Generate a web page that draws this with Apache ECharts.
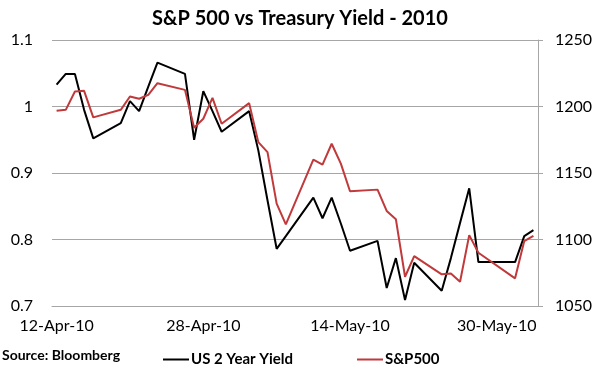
<!DOCTYPE html>
<html>
<head>
<meta charset="utf-8">
<script src="https://cdn.jsdelivr.net/npm/echarts@6/dist/echarts.min.js"></script>
<style>html,body{margin:0;padding:0;background:#fff;}#c{width:600px;height:370px;}</style>
</head>
<body>
<div id="c"></div>
<script>
// Trading dates (2010)
var tradeDates = ['2010-04-12','2010-04-13','2010-04-14','2010-04-15','2010-04-16',
  '2010-04-19','2010-04-20','2010-04-21','2010-04-22','2010-04-23',
  '2010-04-26','2010-04-27','2010-04-28','2010-04-29','2010-04-30',
  '2010-05-03','2010-05-04','2010-05-05','2010-05-06','2010-05-07',
  '2010-05-10','2010-05-11','2010-05-12','2010-05-13','2010-05-14',
  '2010-05-17','2010-05-18','2010-05-19','2010-05-20','2010-05-21',
  '2010-05-24','2010-05-25','2010-05-26','2010-05-27','2010-05-28',
  '2010-06-01','2010-06-02','2010-06-03'];
// US 2 Year Yield (left axis)
var yield2y = [1.033,1.049,1.049,0.995,0.952,
  0.975,1.008,0.993,1.030,1.066,
  1.049,0.950,1.023,0.993,0.962,
  0.993,0.934,0.859,0.786,0.805,
  0.863,0.832,0.863,0.824,0.783,
  0.798,0.727,0.772,0.709,0.765,
  0.723,0.772,0.825,0.877,0.766,
  0.766,0.805,0.814];
// S&P500 (right axis)
var sp500 = [1196.8,1197.5,1211.3,1211.8,1191.8,
  1197.5,1207.5,1205.8,1208.8,1217.5,
  1212.5,1184.0,1190.8,1206.5,1187.0,
  1202.5,1173.2,1165.7,1127.0,1111.3,
  1160.0,1156.3,1172.0,1157.0,1136.3,
  1137.5,1121.5,1115.3,1072.0,1087.5,
  1073.8,1074.5,1068.2,1103.3,1090.0,
  1070.8,1098.8,1102.7];
var leftTicks = {min:0.7, max:1.1, interval:0.1};
var rightTicks = {min:1050, max:1250, interval:50};

var MON = ['Jan','Feb','Mar','Apr','May','Jun','Jul','Aug','Sep','Oct','Nov','Dec'];
// calendar days spanning the trading range (Excel date axis)
var cats = [], yData = [], sData = [];
var idx = {};
tradeDates.forEach(function(d,i){ idx[d]=i; });
var d0 = new Date(tradeDates[0]+'T00:00:00Z'), d1 = new Date(tradeDates[tradeDates.length-1]+'T00:00:00Z');
for (var t = d0.getTime(); t <= d1.getTime(); t += 86400000) {
  var d = new Date(t);
  var key = d.toISOString().slice(0,10);
  cats.push(d.getUTCDate() + '-' + MON[d.getUTCMonth()] + '-' + String(d.getUTCFullYear()).slice(2));
  if (idx[key] !== undefined) { yData.push(yield2y[idx[key]]); sData.push(sp500[idx[key]]); }
  else { yData.push(null); sData.push(null); }
}

var FONT = 'Lato';
var chart = echarts.init(document.getElementById('c'), null, {renderer:'canvas'});
chart.setOption({
  animation: false,
  backgroundColor: '#fff',
  textStyle: {fontFamily: FONT},
  title: {
    text: 'S&P 500 vs Treasury Yield - 2010',
    left: 'center', top: 4,
    textStyle: {fontFamily: FONT, fontSize: 20, fontWeight: 'bold', color: '#000'}
  },
  graphic: [{
    type: 'text', left: 2, top: 348,
    style: {text: 'Source: Bloomberg', fontFamily: FONT, fontSize: 14, fontWeight: 'bold', fill: '#000'}
  }],
  legend: {
    left: 158, top: 347,
    itemWidth: 26, itemHeight: 2, itemGap: 64,
    icon: 'rect',
    textStyle: {fontFamily: FONT, fontSize: 15, fontWeight: 'bold', color: '#000', padding: [0,0,0,-3]},
    data: ['US 2 Year Yield', 'S&P500']
  },
  grid: {left: 52, right: 62, top: 40, bottom: 64},
  xAxis: {
    type: 'category', data: cats, boundaryGap: true,
    axisLine: {show: true, lineStyle: {color: '#A6A6A6', width: 1}},
    axisTick: {show: false},
    axisLabel: {interval: 15, color: '#000', fontSize: 16, fontFamily: FONT, margin: 12}
  },
  yAxis: [{
    type: 'value', min: leftTicks.min, max: leftTicks.max, interval: leftTicks.interval,
    axisLine: {show: false}, axisTick: {show: false},
    splitLine: {lineStyle: {color: '#A6A6A6', width: 1}},
    axisLabel: {color: '#000', fontSize: 16, fontFamily: FONT, margin: 19,
      formatter: function(v){ return String(+v.toFixed(1)); }}
  }, {
    type: 'value', min: rightTicks.min, max: rightTicks.max, interval: rightTicks.interval,
    position: 'right',
    axisLine: {show: true, lineStyle: {color: '#A6A6A6', width: 1}},
    axisTick: {show: true, length: 5, lineStyle: {color: '#A6A6A6'}},
    splitLine: {show: false},
    axisLabel: {color: '#000', fontSize: 16, fontFamily: FONT, margin: 17,
      formatter: function(v){ return String(v); }}
  }],
  series: [{
    name: 'US 2 Year Yield', type: 'line', yAxisIndex: 0, data: yData,
    connectNulls: true, showSymbol: false, symbol: 'none',
    lineStyle: {color: '#000000', width: 2}, itemStyle: {color: '#000000'}
  }, {
    name: 'S&P500', type: 'line', yAxisIndex: 1, data: sData,
    connectNulls: true, showSymbol: false, symbol: 'none',
    lineStyle: {color: '#C0393B', width: 2}, itemStyle: {color: '#C0393B'}
  }]
});
</script>
</body>
</html>
